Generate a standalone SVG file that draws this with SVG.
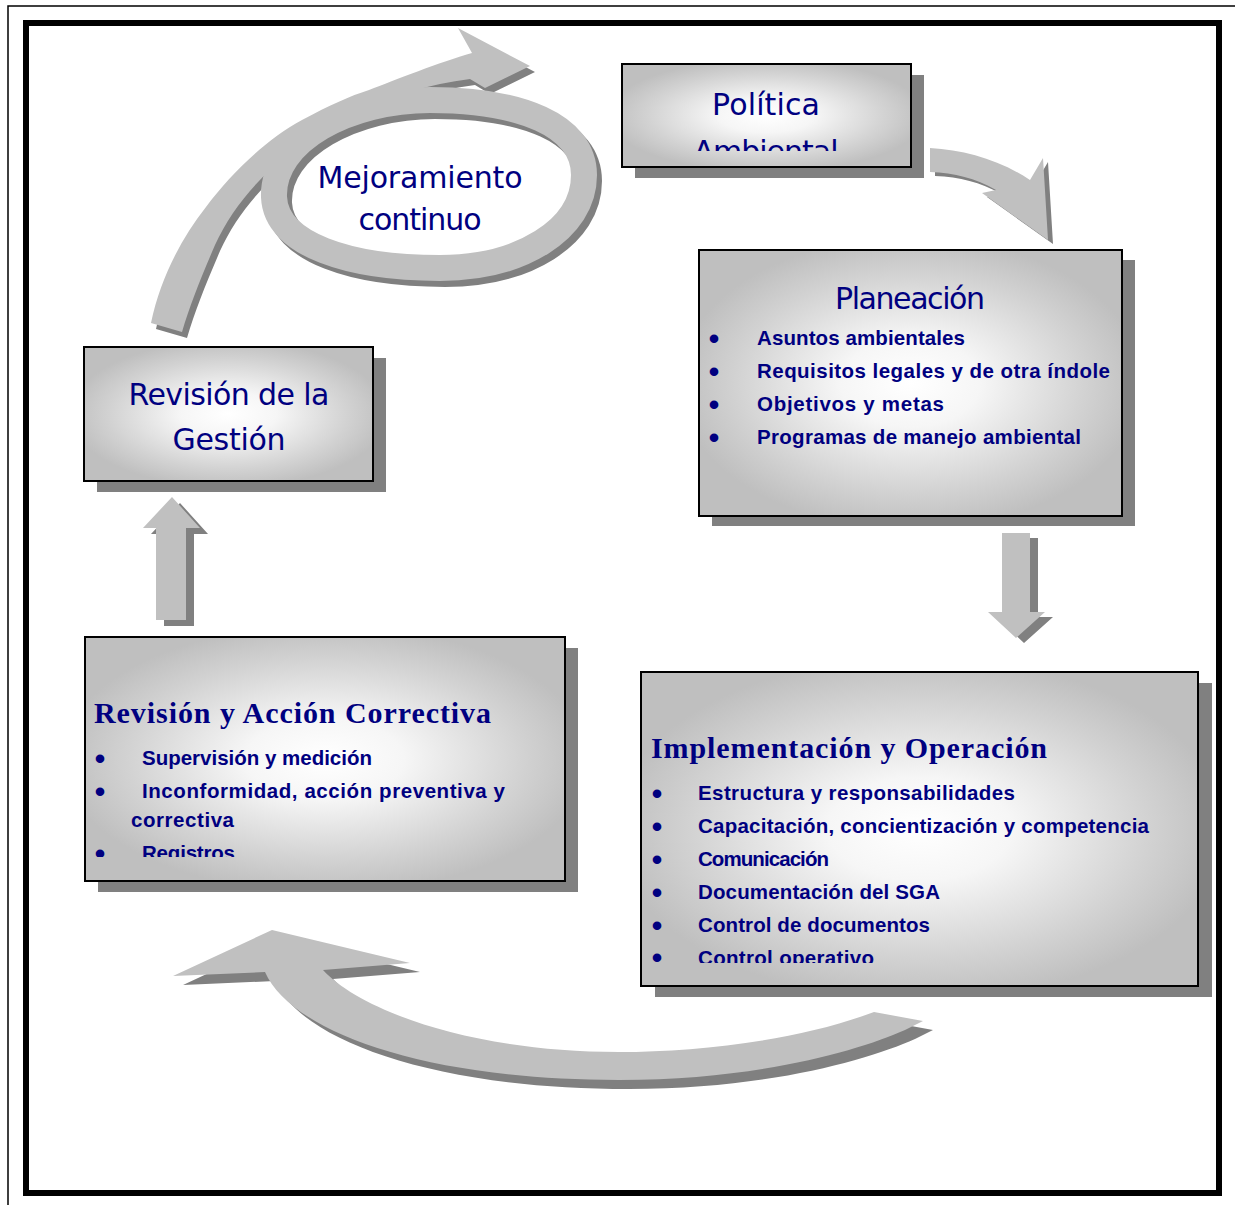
<svg xmlns="http://www.w3.org/2000/svg" width="1235" height="1205" viewBox="0 0 1235 1205">
<defs>
<radialGradient id="g" cx="50%" cy="50%" r="55%">
<stop offset="0" stop-color="#ffffff"/>
<stop offset="0.3" stop-color="#f6f6f6"/>
<stop offset="0.75" stop-color="#d2d2d2"/>
<stop offset="1" stop-color="#bfbfbf"/>
</radialGradient>
<clipPath id="cPol"><rect x="622" y="64" width="289" height="87"/></clipPath>
<clipPath id="cImp"><rect x="641" y="672" width="557" height="291"/></clipPath>
<clipPath id="cRev"><rect x="85" y="637" width="480" height="220"/></clipPath>
<style>
.sh{fill:#808080}
.bx{fill:url(#g);stroke:#000;stroke-width:2}
.ar{fill:#c0c0c0}
.t{font-family:"DejaVu Sans",sans-serif;font-size:30px;fill:#000080;text-anchor:middle}
.b{font-family:"Liberation Sans",Arial,sans-serif;font-weight:bold;font-size:20.5px;fill:#000080}
.d{font-family:"Liberation Sans",Arial,sans-serif;font-weight:bold;font-size:30px;fill:#000080;text-anchor:middle}
.h{font-family:"Liberation Serif","Times New Roman",serif;font-weight:bold;font-size:30px;fill:#000080}
</style>
</defs>
<rect x="0" y="0" width="1235" height="1205" fill="#fff"/>
<g id="frame">
<path d="M8,1205 V6 H1235" fill="none" stroke="#000" stroke-width="1.5"/>
<rect x="26" y="23" width="1193" height="1170" fill="none" stroke="#000" stroke-width="6"/>
</g>

<g id="connectors">
 <g id="arrow-mejora">
  <path class="sh" transform="translate(5,6)" d="M151,323 C160,280 180,240 206,207 C230,175 265,140 302,120 C330,105 350,96 369,90 C395,80 440,62 472,53 L458,28 L530,66 L485,88 L470,79 C430,84 390,96 350,115 C290,145 240,190 215,245 C200,280 190,305 182,332 Z"/>
  <path transform="translate(5,6)" d="M274,197 C272,140 350,100 430,100 C520,100 584,125 584,175 C584,230 520,268 440,268 C350,268 276,245 274,197 Z" fill="none" stroke="#808080" stroke-width="26"/>
  <path class="ar" d="M151,323 C160,280 180,240 206,207 C230,175 265,140 302,120 C330,105 350,96 369,90 C395,80 440,62 472,53 L458,28 L530,66 L485,88 L470,79 C430,84 390,96 350,115 C290,145 240,190 215,245 C200,280 190,305 182,332 Z"/>
  <path d="M274,197 C272,140 350,100 430,100 C520,100 584,125 584,175 C584,230 520,268 440,268 C350,268 276,245 274,197 Z" fill="none" stroke="#c0c0c0" stroke-width="26"/>
 </g>
 <g id="arrow-pol-plan">
  <path class="sh" transform="translate(5,4)" d="M930,148 C965,150 1000,160 1030,180 L1043,158 L1048,240 L982,193 L996,190 C975,178 955,173 930,172 Z"/>
  <path class="ar" d="M930,148 C965,150 1000,160 1030,180 L1043,158 L1048,240 L982,193 L996,190 C975,178 955,173 930,172 Z"/>
 </g>
 <g id="arrow-plan-imp">
  <path class="sh" transform="translate(8,5)" d="M1002,533 H1030 V612 H1045 L1016,638 L988,612 H1002 Z"/>
  <path class="ar" d="M1002,533 H1030 V612 H1045 L1016,638 L988,612 H1002 Z"/>
 </g>
 <g id="arrow-imp-rev">
  <path class="sh" transform="translate(10,9)" d="M874,1012 C800,1040 700,1052 619,1052 C470,1052 360,1010 323,970 L410,963 L272,930 L173,976 L265,972 C290,1030 420,1080 619,1080 C760,1080 860,1050 905,1030 L923,1021 Z"/>
  <path class="ar" d="M874,1012 C800,1040 700,1052 619,1052 C470,1052 360,1010 323,970 L410,963 L272,930 L173,976 L265,972 C290,1030 420,1080 619,1080 C760,1080 860,1050 905,1030 L923,1021 Z"/>
 </g>
 <g id="arrow-rev-gest">
  <path class="sh" transform="translate(8,6)" d="M172,497 L200,528 H186 V620 H156 V528 H143 Z"/>
  <path class="ar" d="M172,497 L200,528 H186 V620 H156 V528 H143 Z"/>
 </g>
</g>

<g id="mejoramiento">
 <text class="t" x="420" y="188" textLength="205">Mejoramiento</text>
 <text class="t" x="420" y="230" textLength="123">continuo</text>
</g>

<g id="politica">
 <rect class="sh" x="635" y="75" width="289" height="103"/>
 <rect class="bx" x="622" y="64" width="289" height="103"/>
 <g clip-path="url(#cPol)">
  <text class="t" x="766" y="115" textLength="108">Política</text>
  <text class="t" x="766" y="162" textLength="145">Ambiental</text>
 </g>
</g>

<g id="planeacion">
 <rect class="sh" x="712" y="260" width="423" height="266"/>
 <rect class="bx" x="699" y="250" width="423" height="266"/>
 <text class="t" x="910" y="309" textLength="150">Planeación</text>
 <text class="d" x="714" y="349">•</text><text class="b" x="757" y="345" textLength="208">Asuntos ambientales</text>
 <text class="d" x="714" y="382">•</text><text class="b" x="757" y="378" textLength="353">Requisitos legales y de otra índole</text>
 <text class="d" x="714" y="415">•</text><text class="b" x="757" y="411" textLength="187">Objetivos y metas</text>
 <text class="d" x="714" y="448">•</text><text class="b" x="757" y="444" textLength="324">Programas de manejo ambiental</text>
</g>

<g id="implementacion">
 <rect class="sh" x="655" y="683" width="557" height="314"/>
 <rect class="bx" x="641" y="672" width="557" height="314"/>
 <text class="h" x="651" y="758" textLength="396">Implementación y Operación</text>
 <g clip-path="url(#cImp)">
  <text class="d" x="657" y="804">•</text><text class="b" x="698" y="800" textLength="317">Estructura y responsabilidades</text>
  <text class="d" x="657" y="837">•</text><text class="b" x="698" y="833" textLength="451">Capacitación, concientización y competencia</text>
  <text class="d" x="657" y="870">•</text><text class="b" x="698" y="866" textLength="131">Comunicación</text>
  <text class="d" x="657" y="903">•</text><text class="b" x="698" y="899" textLength="242">Documentación del SGA</text>
  <text class="d" x="657" y="936">•</text><text class="b" x="698" y="932" textLength="232">Control de documentos</text>
  <text class="d" x="657" y="968">•</text><text class="b" x="698" y="965" textLength="176">Control operativo</text>
 </g>
</g>

<g id="revision-accion">
 <rect class="sh" x="98" y="648" width="480" height="244"/>
 <rect class="bx" x="85" y="637" width="480" height="244"/>
 <text class="h" x="94" y="723" textLength="397">Revisión y Acción Correctiva</text>
 <g clip-path="url(#cRev)">
  <text class="d" x="100" y="769">•</text><text class="b" x="142" y="765" textLength="230">Supervisión y medición</text>
  <text class="d" x="100" y="802">•</text><text class="b" x="142" y="798" textLength="363">Inconformidad, acción preventiva y</text>
  <text class="b" x="131" y="827" textLength="103">correctiva</text>
  <text class="d" x="100" y="864">•</text><text class="b" x="142" y="860" textLength="93">Registros</text>
 </g>
</g>

<g id="revision-gestion">
 <rect class="sh" x="97" y="358" width="289" height="134"/>
 <rect class="bx" x="84" y="347" width="289" height="134"/>
 <text class="t" x="229" y="405" textLength="201">Revisión de la</text>
 <text class="t" x="229" y="450" textLength="113">Gestión</text>
</g>
</svg>
